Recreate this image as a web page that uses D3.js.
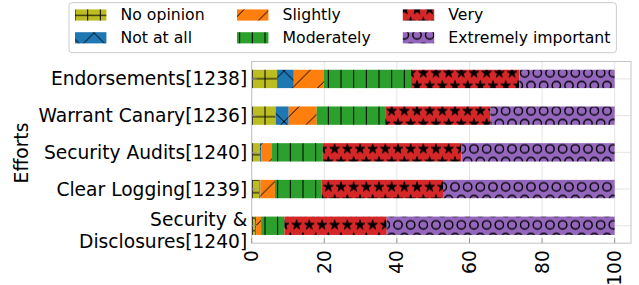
<!DOCTYPE html>
<html>
<head>
<meta charset="utf-8">
<script src="https://cdn.jsdelivr.net/npm/d3@7"></script>
<style>
  body { margin: 0; background: #fff; }
  svg { display: block; font-family: "DejaVu Sans", sans-serif; }
</style>
</head>
<body>
<svg id="chart" width="639" height="285"></svg>
<script>
// data (percent of answers)
const efforts = ["Endorsements[1238]", "Warrant Canary[1236]", "Security Audits[1240]",
  "Clear Logging[1239]", "Security &\nDisclosures[1240]"];
const levels = ["No opinion", "Not at all", "Slightly", "Moderately", "Very", "Extremely important"];
const noOpinion = [7.0, 6.6, 2.3, 2.1, 0.9];
const notAtAll = [4.6, 3.6, 0.3, 0.3, 0.3];
const slightly = [8.3, 7.7, 3.0, 4.0, 1.4];
const moderately = [24.0, 18.9, 14.0, 12.9, 6.4];
const very = [29.8, 29.0, 38.2, 33.4, 28.2];
const extremely = [26.3, 34.2, 42.2, 47.3, 62.8];
const xTicks = [0, 20, 40, 60, 80, 100];

const seriesValues = [noOpinion, notAtAll, slightly, moderately, very, extremely];
const colors = ["#bcbd22", "#1f77b4", "#ff7f0e", "#2ca02c", "#d62728", "#9467bd"];
const hatches = ["+", "x", "/", "|", "*", "O"];

const rows = efforts.map((e, i) => {
  const r = { effort: e };
  levels.forEach((l, j) => { r[l] = seriesValues[j][i]; });
  return r;
});

const svg = d3.select("#chart");
const plotLeft = 251.7, plotRight = 631, plotTop = 61.5, plotBottom = 243.2;

const x = d3.scaleLinear().domain([0, 104.5]).range([plotLeft, plotRight]);
const y = d3.scaleLinear().domain([-0.475, efforts.length - 1 + 0.475]).range([plotTop, plotBottom]);
const barH = y(0.25) - y(0);

// hatch patterns, tile like matplotlib (6 per tile)
const T = 76, s = T / 6;
const defs = svg.append("defs");
hatches.forEach(function(h, i) {
  const diag = (h === "/" || h === "x");
  const shape = (h === "*" || h === "O");
  const p = defs.append("pattern")
    .attr("id", "hatch" + i)
    .attr("patternUnits", "userSpaceOnUse")
    .attr("width", T).attr("height", T)
    .attr("x", diag ? 18 : 37).attr("y", diag ? 7.6 : (shape ? 9.6 : 2.7));
  p.append("rect").attr("width", T).attr("height", T).attr("fill", colors[i]);
  const g = p.append("g").attr("stroke", "#000").attr("stroke-width", 1).attr("fill", "none");
  if (h === "+" || h === "|") {
    for (let k = 0; k <= 6; k++) {
      g.append("line").attr("x1", k * s).attr("x2", k * s).attr("y1", 0).attr("y2", T);
      if (h === "+") g.append("line").attr("y1", k * s).attr("y2", k * s).attr("x1", 0).attr("x2", T);
    }
  }
  if (diag) {
    for (let k = -3; k <= 6; k++) {
      const c = k * 2 * s;
      // '/' : x + y = c
      g.append("line").attr("x1", c - T).attr("y1", T).attr("x2", c + T).attr("y2", -T);
      if (h === "x") {
        // '\' : x - y = c
        g.append("line").attr("x1", c - T).attr("y1", -T).attr("x2", c + T).attr("y2", T);
      }
    }
  }
  if (shape) {
    const star = d3.symbol().type(d3.symbolStar).size(30);
    for (let r = -1; r <= 7; r++) {
      for (let c = -1; c <= 7; c++) {
        const cx = c * s + (r % 2 ? s / 2 : 0), cy = r * s;
        if (h === "*") {
          p.append("path").attr("d", star()).attr("fill", "#000")
            .attr("stroke", "#000").attr("stroke-width", 0.8)
            .attr("transform", `translate(${cx},${cy})`);
        } else {
          p.append("circle").attr("cx", cx).attr("cy", cy).attr("r", 4.2)
            .attr("fill", "none").attr("stroke", "#000").attr("stroke-width", 1.4);
        }
      }
    }
  }
});

// grid
svg.append("g").selectAll("line").data(xTicks).join("line")
  .attr("x1", d => x(d)).attr("x2", d => x(d)).attr("y1", plotTop).attr("y2", plotBottom)
  .attr("stroke", "#e5e5e5").attr("stroke-width", 1);
svg.append("g").selectAll("line").data(efforts).join("line")
  .attr("y1", (d, i) => y(i)).attr("y2", (d, i) => y(i)).attr("x1", plotLeft).attr("x2", plotRight)
  .attr("stroke", "#e5e5e5").attr("stroke-width", 1);

// stacked bars
const stack = d3.stack().keys(levels)(rows);
stack.forEach(function(layer, j) {
  svg.append("g").selectAll("rect").data(layer).join("rect")
    .attr("x", d => x(d[0]))
    .attr("width", d => x(d[1]) - x(d[0]))
    .attr("y", (d, i) => y(i) - barH)
    .attr("height", barH * 2)
    .attr("fill", "url(#hatch" + j + ")");
});

// frame
svg.append("rect").attr("x", plotLeft).attr("y", plotTop)
  .attr("width", plotRight - plotLeft).attr("height", plotBottom - plotTop)
  .attr("fill", "none").attr("stroke", "#c4c4c4").attr("stroke-width", 1);

// ticks (pointing in)
svg.append("g").selectAll("line").data(xTicks).join("line")
  .attr("x1", d => x(d)).attr("x2", d => x(d)).attr("y1", plotBottom).attr("y2", plotBottom - 5)
  .attr("stroke", "#999").attr("stroke-width", 1);
svg.append("g").selectAll("line").data(efforts).join("line")
  .attr("y1", (d, i) => y(i)).attr("y2", (d, i) => y(i)).attr("x1", plotLeft).attr("x2", plotLeft + 5)
  .attr("stroke", "#999").attr("stroke-width", 1);

// x tick labels, rotated
svg.append("g").selectAll("text").data(xTicks).join("text")
  .attr("transform", d => `translate(${x(d)},${plotBottom + 7}) rotate(-90)`)
  .attr("text-anchor", "end").attr("dominant-baseline", "central")
  .attr("font-size", "18.67px").attr("fill", "#000")
  .text(d => d);

// y tick labels
efforts.forEach(function(e, i) {
  const lines = e.split("\n");
  const t = svg.append("text")
    .attr("text-anchor", "end").attr("font-size", "18.67px").attr("fill", "#000");
  lines.forEach(function(l, k) {
    const off = lines.length === 1 ? 0 : (k === 0 ? -6.3 : 15.4);
    t.append("tspan").attr("x", plotLeft - 4.5).attr("y", y(i) + off)
      .attr("dy", "0.35em").text(l);
  });
});

svg.append("text")
  .attr("transform", `translate(21,153) rotate(-90)`)
  .attr("text-anchor", "middle").attr("dominant-baseline", "central")
  .attr("font-size", "18.67px").text("Efforts");

// legend
const legend = svg.append("g");
legend.append("rect").attr("x", 69).attr("y", 2.7).attr("width", 547.4).attr("height", 50)
  .attr("rx", 3).attr("fill", "#fff").attr("fill-opacity", 0.8)
  .attr("stroke", "#cccccc").attr("stroke-width", 1);
const colX = [75, 237, 402.8], rowY = [15, 37.8];
levels.forEach(function(l, j) {
  const cx = colX[Math.floor(j / 2)], cy = rowY[j % 2];
  legend.append("rect").attr("x", cx).attr("y", cy - 5.6).attr("width", 31.4).attr("height", 11.2)
    .attr("fill", "url(#hatch" + j + ")");
  legend.append("text").attr("x", cx + 45.5).attr("y", cy).attr("dy", "0.35em")
    .attr("font-size", "15.7px").attr("fill", "#000").text(l);
});
</script>
</body>
</html>
